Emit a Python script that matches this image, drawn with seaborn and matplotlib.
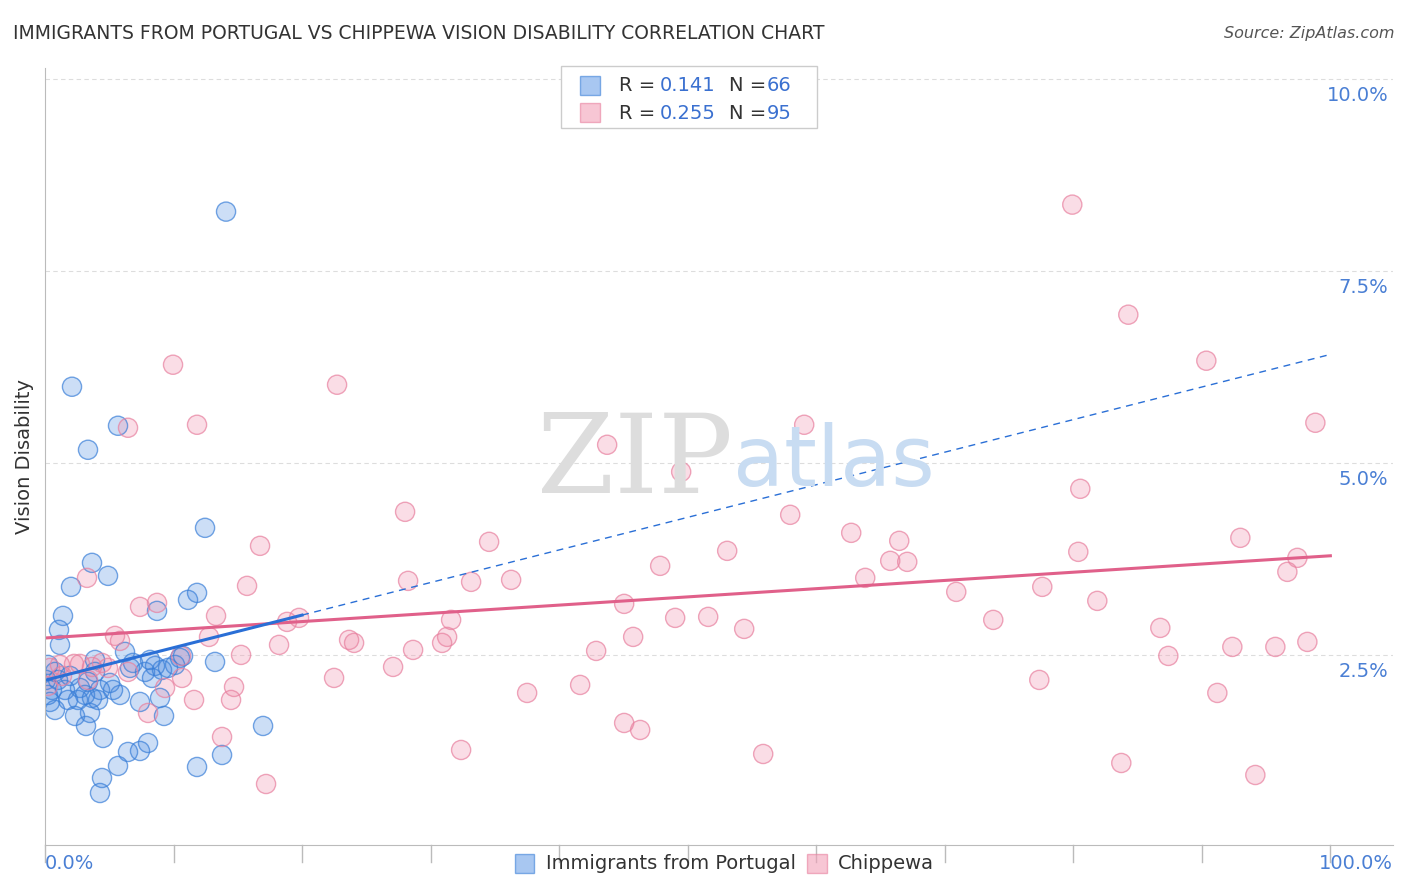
import numpy as np
import pandas as pd
import matplotlib.pyplot as plt
import seaborn as sns

# pixel estimates converted to data: x% = (px-45)/12.85, y% = (847-py)/76.8
blue_px = [(226,212),(72,387),(118,426),(88,450),(205,528),(92,563),(108,576),(71,587),(63,616),(59,630),
           (157,611),(188,600),(197,593),(60,645),(125,652),(48,665),(55,672),(52,690),(50,702),(65,690),
           (80,688),(88,682),(95,672),(70,676),(78,700),(92,698),(100,690),(113,690),(98,700),(75,716),
           (90,713),(86,726),(103,738),(133,663),(155,666),(162,670),(168,668),(150,660),(180,658),(152,678),
           (140,702),(160,698),(164,716),(215,662),(263,726),(102,778),(118,766),(128,752),(140,751),(148,743),
           (197,767),(222,755),(100,793),(48,695),(58,680),(85,695),(130,668),(183,656),(46,680),(68,700),
           (95,660),(110,683),(145,672),(175,665),(55,710),(120,695)]
pink_px = [(1072,205),(1128,315),(1206,361),(1315,423),(173,365),(337,385),(128,428),(197,425),(607,445),(804,425),
           (681,472),(1080,489),(405,512),(489,542),(790,515),(851,533),(899,541),(260,546),(727,551),(1078,552),
           (1240,538),(1297,558),(660,566),(890,561),(907,562),(865,578),(1287,572),(247,586),(408,581),(471,582),
           (511,580),(87,578),(140,607),(157,603),(216,616),(299,618),(287,622),(451,620),(624,604),(675,618),
           (708,617),(956,592),(1042,587),(1097,601),(993,620),(1160,628),(744,629),(633,637),(349,640),(354,643),
           (442,643),(447,637),(115,636),(120,641),(209,637),(279,645),(413,650),(596,651),(241,655),(1232,647),
           (1275,647),(1307,642),(1168,656),(181,656),(102,663),(74,664),(80,664),(60,665),(92,667),(128,672),
           (182,678),(334,678),(393,667),(234,687),(165,688),(194,700),(231,700),(148,713),(527,693),(580,685),
           (1039,680),(1217,693),(624,723),(640,730),(222,737),(461,750),(763,754),(1121,763),(1255,775),(266,784),
           (50,668),(48,686),(62,676),(108,668),(88,680)]

def conv(pts):
    a = np.array(pts, dtype=float)
    return (a[:, 0] - 45) / 12.85, (847 - a[:, 1]) / 76.8

bx, by = conv(blue_px)
px_, py_ = conv(pink_px)
df = pd.concat([pd.DataFrame({"x": bx, "y": by, "g": "Immigrants from Portugal"}),
                pd.DataFrame({"x": px_, "y": py_, "g": "Chippewa"})])

# trend lines (value at 0%, value at 100%)
blue_trend = (2.17, 6.41)
pink_trend = (2.72, 3.79)
blue_solid_end = 20

BLUE = "#6fa3e8"
PINK = "#f2a0b8"
MS = 190

fig = plt.figure(figsize=(14.06, 8.92), dpi=100)
ax = fig.add_axes([0.032, 0.053, 0.959, 0.871])
sns.scatterplot(data=df, x="x", y="y", hue="g", palette={"Immigrants from Portugal": BLUE, "Chippewa": PINK},
                s=MS, alpha=0.35, edgecolor=None, linewidth=0, legend=False, ax=ax)
for g, ec in [("Immigrants from Portugal", "#3a7fd8"), ("Chippewa", "#e8809f")]:
    d = df[df.g == g]
    ax.scatter(d.x, d.y, s=MS, facecolors="none", edgecolors=ec, linewidths=1.0, alpha=0.7)

xs = np.array([0, 100])
ax.plot(xs, pink_trend, color="#e0608a", lw=2.2)
bslope = (blue_trend[1] - blue_trend[0]) / 100
ax.plot([0, blue_solid_end], [blue_trend[0], blue_trend[0] + bslope * blue_solid_end], color="#2a6fd6", lw=2.2)
ax.plot([blue_solid_end, 100], [blue_trend[0] + bslope * blue_solid_end, blue_trend[1]], color="#2a6fd6", lw=1, ls=(0, (5, 4)))

ax.set_xlim(0, 104.9)
ax.set_ylim(0.03, 10.14)
for yv in [2.5, 5, 7.5, 10]:
    ax.axhline(yv, color="#dddddd", lw=0.8, ls=(0, (4, 3)), zorder=0)
ax.set_yticks([])
ax.set_xticks([])
for yv in [2.5, 5, 7.5, 10]:
    ax.text(104.5, yv - 0.22, f"{yv:.1f}%", color="#4a7fd4", fontsize=14, ha="right", va="center")
for xv in range(0, 101, 10):
    ax.plot([xv, xv], [0.03, -0.2], color="#bbbbbb", lw=1, clip_on=False)
for s in ["top", "right"]:
    ax.spines[s].set_visible(False)
ax.spines["left"].set_color("#bbbbbb")
ax.spines["bottom"].set_color("#bbbbbb")
ax.set_xlabel("")
ax.set_ylabel("Vision Disability", fontsize=14, color="#333333", labelpad=8)

ax.text(53.5, 5.0, "ZIP", fontsize=80, color="#dddddd", ha="right", va="center", family="DejaVu Serif")
ax.text(53.5, 5.0, "atlas", fontsize=60, color="#c8dcf2", ha="left", va="center")

fig.text(0.009, 0.962, "IMMIGRANTS FROM PORTUGAL VS CHIPPEWA VISION DISABILITY CORRELATION CHART",
         fontsize=13.5, color="#333333", va="center")
fig.text(0.992, 0.962, "Source: ZipAtlas.com", fontsize=11.5, color="#555555", ha="right", va="center", style="italic")
fig.text(0.032, 0.032, "0.0%", fontsize=14, color="#4a7fd4", va="center")
fig.text(0.991, 0.032, "100.0%", fontsize=14, color="#4a7fd4", va="center", ha="right")

# top legend box
lx, ly = 0.399, 0.856
fig.patches.append(plt.Rectangle((lx, ly), 0.182, 0.07, transform=fig.transFigure, fc="white", ec="#cccccc", lw=1))
for i, (fc, ec, r, n) in enumerate([(BLUE, "#3a7fd8", "0.141", "66"), (PINK, "#e8809f", "0.255", "95")]):
    yy = 0.904 - i * 0.031
    fig.patches.append(plt.Rectangle((lx + 0.0135, yy - 0.01), 0.014, 0.021, transform=fig.transFigure,
                                     fc=fc, ec=ec, alpha=0.6, lw=1))
    fig.text(lx + 0.041, yy, "R =", fontsize=14, color="#333333", va="center")
    fig.text(lx + 0.0705, yy, r, fontsize=14, color="#3a70d0", va="center")
    fig.text(lx + 0.1195, yy, "N =", fontsize=14, color="#333333", va="center")
    fig.text(lx + 0.146, yy, n, fontsize=14, color="#3a70d0", va="center")

# bottom legend
for x0, fc, ec, lab in [(0.366, BLUE, "#3a7fd8", "Immigrants from Portugal"), (0.574, PINK, "#e8809f", "Chippewa")]:
    fig.patches.append(plt.Rectangle((x0, 0.021), 0.014, 0.022, transform=fig.transFigure, fc=fc, ec=ec, alpha=0.6, lw=1))
    fig.text(x0 + 0.022, 0.032, lab, fontsize=14, color="#333333", va="center")

fig.savefig("out.png", dpi=100)
